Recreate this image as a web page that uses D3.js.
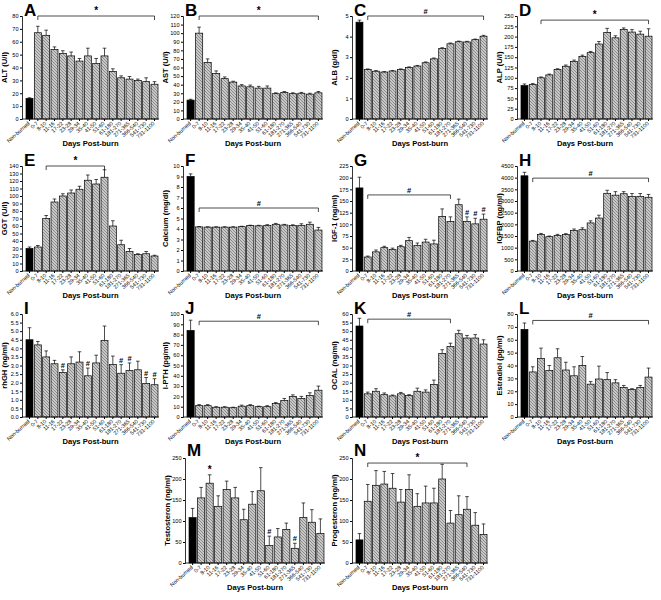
<!DOCTYPE html>
<html><head><meta charset="utf-8">
<script src="https://cdn.jsdelivr.net/npm/d3@7"></script>
<style>body{margin:0;background:#fff} svg{display:block} text{font-family:Arial,"Liberation Sans",sans-serif}</style>
</head><body>
<svg id="c" width="661" height="600"></svg>
<script>
const categories = ["Non-burned","0-7","8-10","11-16","17-22","23-28","29-34","35-40","41-50","51-60","61-180","181-270","271-365","366-540","541-730","731-1100"];

const altMean = [16,67,65,54,51,49,45,49,43,49,37,32,31,30,29,27];
const altErr  = [0.5,5,4,2,2,3,2,6,4,6,2,1.5,2,1,3,2];
const astMean = [22,100,66,53,47,43,38.5,37.5,36,36,29.5,31,29.5,30,29,30.5];
const astErr  = [1,7,4,3,2,1,1.5,2,2,2.5,1,1,1,1,1,1.5];
const albMean = [4.7,2.4,2.32,2.28,2.33,2.4,2.5,2.57,2.73,2.92,3.43,3.65,3.75,3.74,3.85,4.02];
const albErr  = [0.1,0.03,0.03,0.02,0.02,0.03,0.03,0.03,0.04,0.04,0.03,0.04,0.03,0.03,0.03,0.04];
const alpMean = [81,84,100,107,120,128,140,152,161,182,210,197,217,211,206,201];
const alpErr  = [4,2,2,2,2,3,3,3,3,6,10,5,4,6,7,18];
const ggtMean = [30,32,70,92,100,104,109,121,116,125,60,35,26,22,23,20];
const ggtErr  = [2,2,4,4,3,4,4,7,6,10,7,6,4,1,3,1];
const caMean  = [9.0,4.2,4.18,4.18,4.18,4.18,4.22,4.32,4.3,4.35,4.45,4.38,4.32,4.35,4.45,3.9];
const caErr   = [0.25,0.03,0.03,0.03,0.03,0.03,0.04,0.04,0.05,0.06,0.08,0.06,0.08,0.15,0.2,0.25];
const igfMean = [178,30,41,50,46,52,65,55,62,58,117,106,142,106,101,111];
const igfErr  = [23,2,4,3,3,3,7,5,6,8,16,10,12,10,12,11];
const igfbpMean = [4080,1280,1560,1470,1520,1560,1730,1770,2060,2270,3330,3250,3310,3200,3200,3160];
const igfbpErr  = [150,30,50,30,50,40,70,80,90,120,130,150,90,120,120,120];
const ghMean  = [4.5,4.2,3.5,3.1,2.6,3.1,3.2,2.4,3.15,4.45,3.05,2.55,2.7,2.75,1.95,1.88];
const ghErr   = [0.7,0.2,0.35,0.2,0.15,0.4,0.6,0.45,0.45,0.85,0.5,0.5,0.45,0.5,0.35,0.35];
const pthMean = [84,11,11,9.5,9.5,9,10.5,11,10,10,13,16,20,18,21,26];
const pthErr  = [10,1,1,0.5,0.5,0.5,1,1,0.5,1,1,2,1.5,2,2.5,4];
const ocalMean = [53,13.5,15,13,12.3,13.5,12.5,15,14.5,19,37,41,48.5,46,46,42.5];
const ocalErr  = [4.5,1,1.5,1,0.5,0.8,0.5,1.8,1.3,2.5,2.2,2,2,1.5,2,2.5];
const e2Mean  = [68,35,45.5,36,46,36.5,32,40,25.5,29.5,29,26.5,23,21.5,23,31];
const e2Err   = [5,4,8,4,7,6,7,7,2,10,5.5,2.5,1.5,0.5,1.5,7];
const testoMean = [108,155,190,135,175,155,103,140,172,42,62,80,35,108,97,70];
const testoErr  = [22,25,20,25,20,25,25,30,55,22,20,15,12,35,30,35];
const progMean = [55,147,185,188,178,145,175,135,143,143,200,95,115,128,90,68];
const progErr  = [15,40,35,30,35,30,35,30,40,35,35,30,45,30,30,25];

const yTicksA = d3.range(0,81,10), yTicksB = d3.range(0,121,10), yTicksC = d3.range(0,6,1),
      yTicksD = d3.range(0,251,25), yTicksE = d3.range(0,141,10), yTicksF = d3.range(0,11,1),
      yTicksG = d3.range(0,226,25), yTicksH = d3.range(0,4501,500), yTicksI = d3.range(0,6.01,0.5),
      yTicksJ = d3.range(0,101,10), yTicksK = d3.range(0,61,5), yTicksL = d3.range(0,81,10),
      yTicksM = d3.range(0,251,50), yTicksN = d3.range(0,251,50);

const panels = [
 {L:"A",c:0,r:0,t:"ALT (U/l)",m:altMean,e:altErr,ticks:yTicksA,fmt:"d",br:[1,15,80,"*"],mk:[]},
 {L:"B",c:1,r:0,t:"AST (U/l)",m:astMean,e:astErr,ticks:yTicksB,fmt:"d",br:[1,15,120,"*"],mk:[]},
 {L:"C",c:2,r:0,t:"ALB (g/dl)",m:albMean,e:albErr,ticks:yTicksC,fmt:"d",br:[1,15,5,"#"],mk:[]},
 {L:"D",c:3,r:0,t:"ALP (U/l)",m:alpMean,e:alpErr,ticks:yTicksD,fmt:"d",br:[2,15,240,"*"],mk:[]},
 {L:"E",c:0,r:1,t:"GGT (U/l)",m:ggtMean,e:ggtErr,ticks:yTicksE,fmt:"d",br:[2,9,140,"*"],mk:[]},
 {L:"F",c:1,r:1,t:"Calcium (mg/dl)",m:caMean,e:caErr,ticks:yTicksF,fmt:"d",br:[1,15,6.0,"#"],mk:[]},
 {L:"G",c:2,r:1,t:"IGF-1 (ng/ml)",m:igfMean,e:igfErr,ticks:yTicksG,fmt:"d",br:[1,11,163,"#"],mk:[13,14,15]},
 {L:"H",c:3,r:1,t:"IGFBP (ng/ml)",m:igfbpMean,e:igfbpErr,ticks:yTicksH,fmt:"d",br:[1,15,3980,"#"],mk:[]},
 {L:"I",c:0,r:2,t:"rhGH (ng/ml)",m:ghMean,e:ghErr,ticks:yTicksI,fmt:".1f",br:null,mk:[4,7,11,12,14,15]},
 {L:"J",c:1,r:2,t:"I-PTH (pg/ml)",m:pthMean,e:pthErr,ticks:yTicksJ,fmt:"d",br:[1,15,93,"#"],mk:[]},
 {L:"K",c:2,r:2,t:"OCAL (ng/ml)",m:ocalMean,e:ocalErr,ticks:yTicksK,fmt:"d",br:[1,11,57,"#"],mk:[]},
 {L:"L",c:3,r:2,t:"Estradiol (pg/ml)",m:e2Mean,e:e2Err,ticks:yTicksL,fmt:"d",br:[1,15,75,"#"],mk:[]},
 {L:"M",c:4,r:3,t:"Testosteron (ng/ml)",m:testoMean,e:testoErr,ticks:yTicksM,fmt:"d",br:null,mk:[],mks:[[2,"*"],[9,"#"],[12,"#"]]},
 {L:"N",c:5,r:3,t:"Progesteron (ng/ml)",m:progMean,e:progErr,ticks:yTicksN,fmt:"d",br:[1,13,238,"*"],mk:[]}
];

const colX = [22,183,352,517,185,352];
const colW = [137,140,136,136,140,136];
const rowTop = [16,166,314,458];
const rowBot = [119,271,417,563];

const svg = d3.select("#c");
const defs = svg.append("defs");
const pat = defs.append("pattern").attr("id","hatch").attr("patternUnits","userSpaceOnUse")
  .attr("width",3).attr("height",3);
pat.append("rect").attr("width",3).attr("height",3).attr("fill","#c8c8c8");
pat.append("path").attr("d","M-1,-1 L4,4 M-1,2 L1,4 M2,-1 L4,1").attr("stroke","#808080").attr("stroke-width",0.85);

panels.forEach(p=>{
  const x0 = colX[p.c], w = colW[p.c], y0 = rowTop[p.r], y1 = rowBot[p.r];
  const g = svg.append("g");
  const ymax = p.ticks[p.ticks.length-1];
  const y = d3.scaleLinear().domain([0,ymax]).range([y1,y0]);
  const x = d3.scaleBand().domain(categories).range([x0+3,x0+w]).paddingInner(0.16).paddingOuter(0.12);
  const bw = x.bandwidth();

  g.selectAll("rect.bar").data(p.m).join("rect")
    .attr("x",(d,i)=>x(categories[i])).attr("width",bw)
    .attr("y",d=>y(d)).attr("height",d=>y1-y(d))
    .attr("fill",(d,i)=>i===0?"#000":"url(#hatch)")
    .attr("stroke","#000").attr("stroke-width",0.7);
  p.m.forEach((d,i)=>{
    const cx = x(categories[i])+bw/2, top = y(d+p.e[i]);
    g.append("line").attr("x1",cx).attr("x2",cx).attr("y1",y(d)).attr("y2",top).attr("stroke","#000").attr("stroke-width",0.7);
    g.append("line").attr("x1",cx-1.8).attr("x2",cx+1.8).attr("y1",top).attr("y2",top).attr("stroke","#000").attr("stroke-width",0.7);
  });
  const ya = d3.axisLeft(y).tickValues(p.ticks).tickSize(2).tickPadding(1.5).tickFormat(d3.format(p.fmt));
  const yg = g.append("g").attr("transform",`translate(${x0},0)`).call(ya);
  yg.selectAll("text").attr("font-size",5.6).attr("fill","#000");
  yg.select(".domain").attr("stroke-width",0.8);
  const xa = d3.axisBottom(x).tickSize(2).tickPadding(1);
  const xg = g.append("g").attr("transform",`translate(0,${y1})`).call(xa);
  xg.select(".domain").attr("d",`M${x0},0H${x0+w}`).attr("stroke-width",0.8);
  xg.selectAll("text").attr("font-size",5.4).attr("fill","#000").attr("text-anchor","end")
    .attr("transform","translate(-2,2) rotate(-42)").attr("dy","0.35em").attr("y",2);
  g.append("text").attr("x",x0+w/2).attr("y",y1+27).attr("text-anchor","middle")
    .attr("font-size",7.6).attr("font-weight","bold").text("Days Post-burn");
  g.append("text").attr("transform",`translate(${x0-15},${(y0+y1)/2}) rotate(-90)`)
    .attr("text-anchor","middle").attr("font-size",7.6).attr("font-weight","bold").text(p.t);
  g.append("text").attr("x",x0+2).attr("y",y0-(p.r===3?2:0)).attr("font-size",17).attr("font-weight","bold").text(p.L);
  if(p.br){
    const [a,b,lv,s] = p.br;
    const xa1 = x(categories[a])+bw/2, xb1 = x(categories[b])+bw/2, yy = y(lv);
    g.append("path").attr("d",`M${xa1},${yy+4}V${yy}H${xb1}V${yy+4}`).attr("fill","none").attr("stroke","#000").attr("stroke-width",0.7);
    g.append("text").attr("x",(xa1+xb1)/2).attr("y",yy-2).attr("text-anchor","middle")
      .attr("font-size",s==="*"?10:7.5).attr("font-weight","bold").text(s);
  }
  const marks = (p.mk||[]).map(i=>[i,"#"]).concat(p.mks||[]);
  marks.forEach(([i,s])=>{
    g.append("text").attr("x",x(categories[i])+bw/2).attr("y",y(p.m[i]+p.e[i])-2)
      .attr("text-anchor","middle").attr("font-size",s==="*"?10:7.5).attr("font-weight","bold").text(s);
  });
});
</script>
</body></html>
